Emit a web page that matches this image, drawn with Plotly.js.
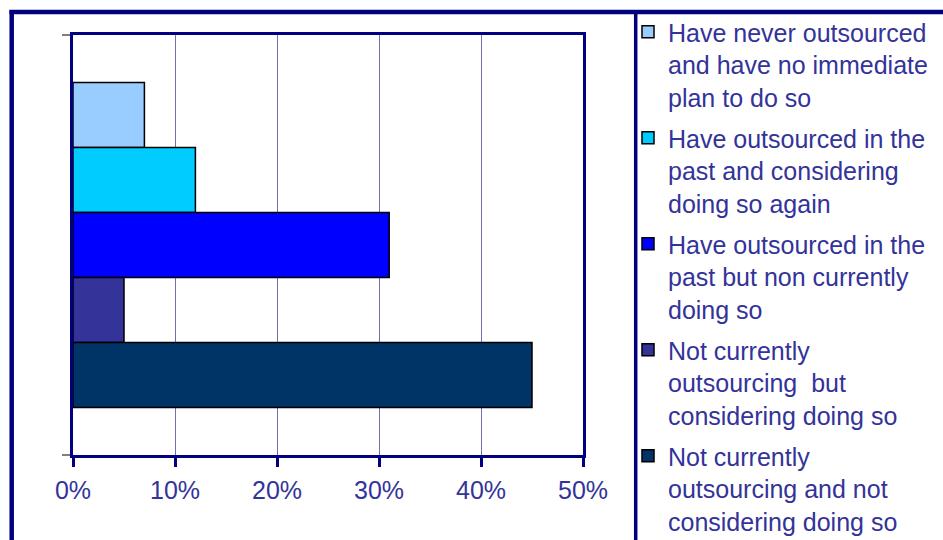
<!DOCTYPE html>
<html>
<head>
<meta charset="utf-8">
<script src="https://cdn.plot.ly/plotly-3.0.1.min.js"></script>
<style>
  html, body { margin: 0; padding: 0; background: #ffffff; }
  #chart { width: 943px; height: 540px; }
</style>
</head>
<body>
<div id="chart"></div>
<script>
// ---- Data ----
var categories = ['All respondents'];
var seriesNames = [
  'Have never outsourced<br>and have no immediate<br>plan to do so',
  'Have outsourced in the<br>past and considering<br>doing so again',
  'Have outsourced in the<br>past but non currently<br>doing so',
  'Not currently<br>outsourcing  but<br>considering doing so',
  'Not currently<br>outsourcing and not<br>considering doing so'
];
var seriesValues = [7, 12, 31, 5, 45];   // percent
var xTickValues = [0, 10, 20, 30, 40, 50];
var xTickLabels = ['0%', '10%', '20%', '30%', '40%', '50%'];

// ---- Styles ----
var seriesColors = ['#99CCFF', '#00CCFF', '#0000FF', '#333399', '#003366'];
var NAVY = '#000080';
var TEXT = '#333399';
var FONT = '"Liberation Sans", Arial, Helvetica, sans-serif';

var traces = seriesNames.map(function (name, i) {
  return {
    type: 'bar',
    orientation: 'h',
    name: name,
    legendgroup: 'g' + i,
    y: categories,
    x: [seriesValues[i]],
    marker: { color: seriesColors[i], line: { color: '#000000', width: 1.5 } },
    hoverinfo: 'x+name'
  };
});

// pixel -> paper helpers (plot area: x 73..583, y 35..455)
var W = 943, H = 540;
var L = 73, R = 583, T = 35, B = 455;
function px(X) { return (X - L) / (R - L); }
function py(Y) { return (B - Y) / (B - T); }

var frame = { color: NAVY, width: 4.5 };
var shapes = [
  { type: 'line', xref: 'paper', yref: 'paper', x0: px(9.5), x1: px(960), y0: py(12), y1: py(12), line: frame },
  { type: 'line', xref: 'paper', yref: 'paper', x0: px(11.7), x1: px(11.7), y0: py(10), y1: py(560), line: frame },
  { type: 'line', xref: 'paper', yref: 'paper', x0: px(635.7), x1: px(635.7), y0: py(10), y1: py(560), line: { color: NAVY, width: 3.5 } }
];

var layout = {
  width: W,
  height: H,
  margin: { l: L, r: W - R, t: T, b: H - B, pad: 0 },
  paper_bgcolor: '#ffffff',
  plot_bgcolor: '#ffffff',
  font: { family: FONT, size: 25, color: TEXT },
  barmode: 'group',
  bargap: 0.226,
  bargroupgap: 0,
  showlegend: true,
  xaxis: {
    range: [0, 50],
    tickvals: xTickValues,
    ticktext: xTickLabels,
    showgrid: true,
    gridcolor: '#7070B0',
    gridwidth: 1,
    zeroline: false,
    showline: true,
    mirror: true,
    linecolor: NAVY,
    linewidth: 3,
    ticks: 'outside',
    ticklen: 9,
    tickwidth: 3,
    tickcolor: NAVY,
    ticklabelstandoff: 2,
    tickfont: { family: FONT, size: 25, color: TEXT },
    fixedrange: true
  },
  yaxis: {
    type: 'category',
    range: [0.5, -0.5],
    showticklabels: false,
    tickson: 'boundaries',
    ticks: 'outside',
    ticklen: 8,
    tickwidth: 1.5,
    tickcolor: '#808080',
    showgrid: false,
    zeroline: false,
    showline: true,
    mirror: true,
    linecolor: NAVY,
    linewidth: 3,
    fixedrange: true
  },
  legend: {
    xref: 'container',
    yref: 'container',
    x: 628 / W,
    xanchor: 'left',
    y: 1 - 9 / H,
    yanchor: 'top',
    valign: 'top',
    bgcolor: 'rgba(0,0,0,0)',
    borderwidth: 0,
    tracegroupgap: 5.5,
    traceorder: 'grouped',
    maxheight: 600,
    font: { family: FONT, size: 25, color: TEXT }
  },
  shapes: shapes
};

Plotly.newPlot('chart', traces, layout, { displayModeBar: false, staticPlot: true });
</script>
</body>
</html>
